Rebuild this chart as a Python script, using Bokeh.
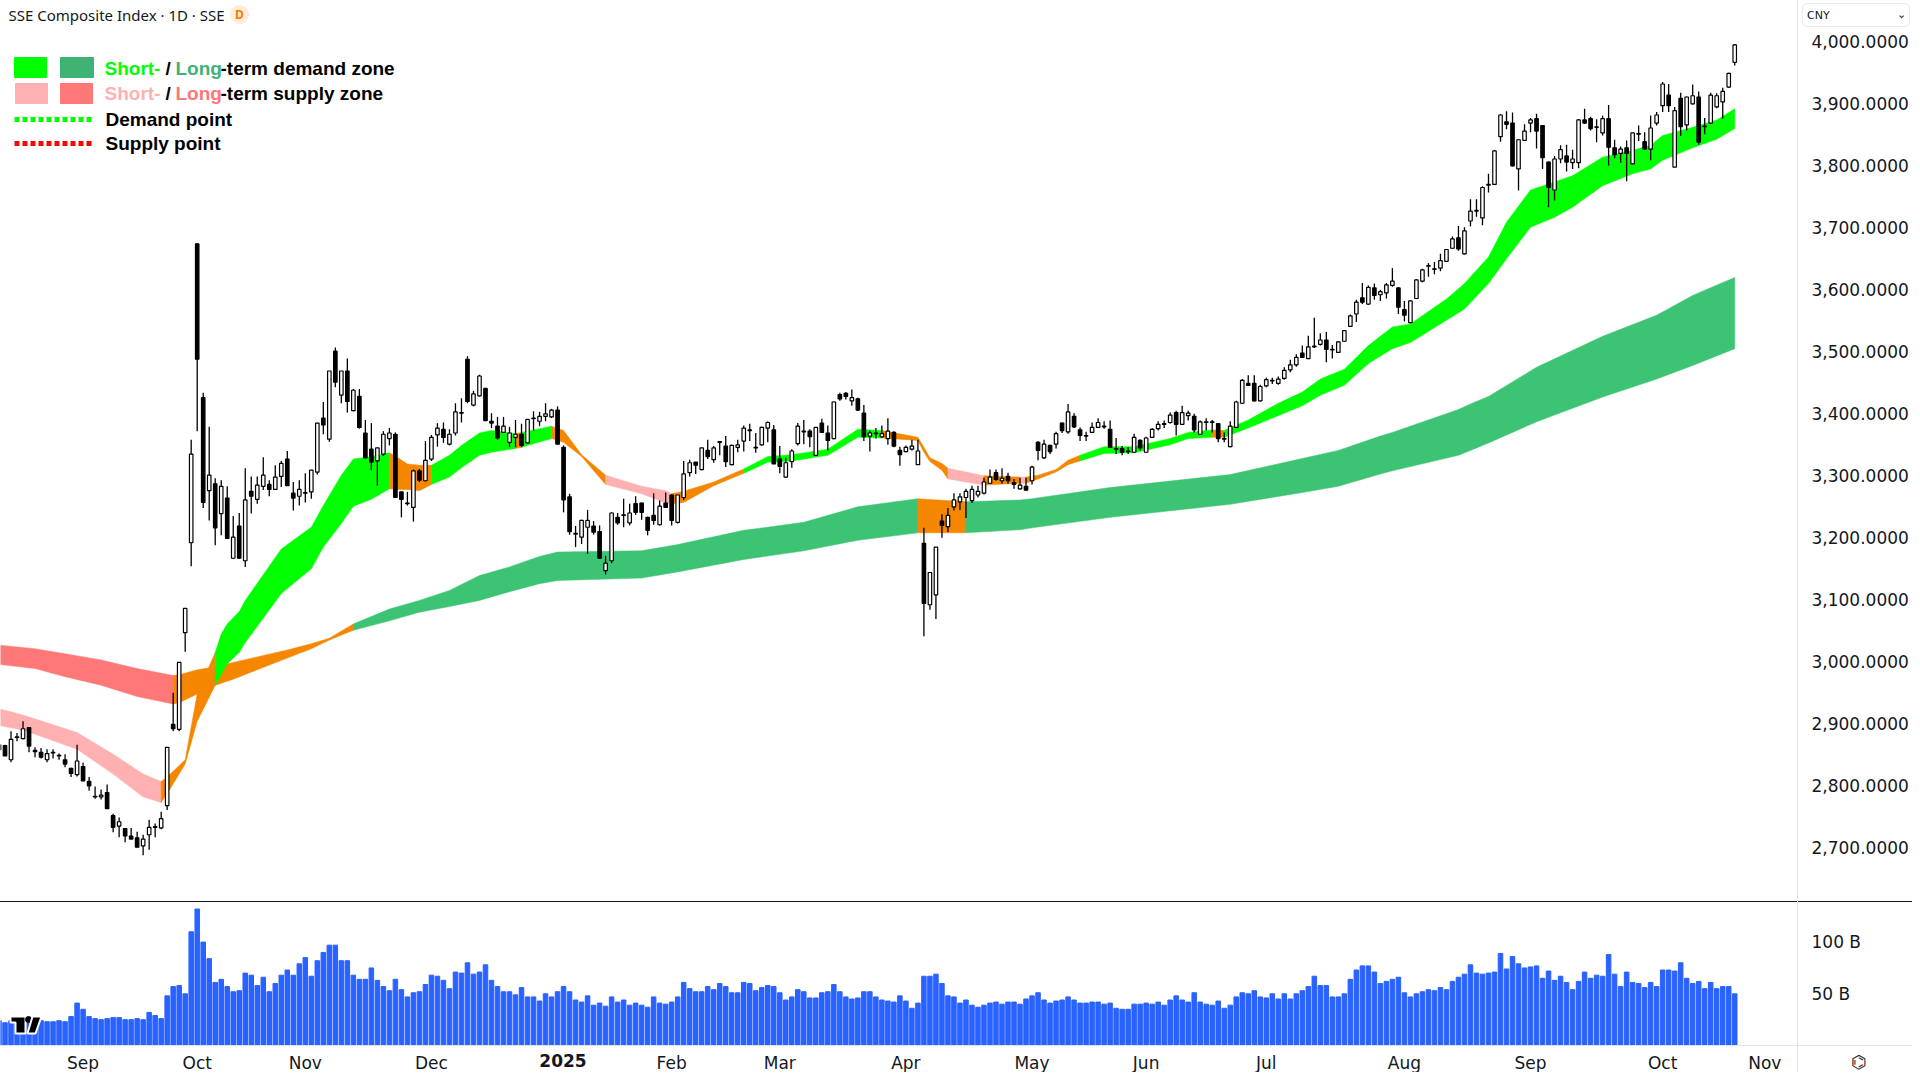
from bokeh.core.properties import value
from bokeh.embed import file_html
from bokeh.layouts import column
from bokeh.models import Div, FixedTicker, LinearAxis, NumeralTickFormatter, Range1d
from bokeh.plotting import figure
from bokeh.resources import INLINE

# daily candles, oldest first
opens = [
    2865, 2864, 2841, 2877, 2875, 2893, 2856, 2853, 2841, 2852,
    2848, 2841, 2827, 2817, 2830, 2806, 2782, 2781, 2788, 2751,
    2734, 2730, 2718, 2715, 2702, 2720, 2732, 2731, 2767, 2898,
    2890, 3046, 3191, 3673, 3425, 3275, 3286, 3238, 3263, 3166,
    3218, 3162, 3274, 3261, 3282, 3285, 3277, 3298, 3326, 3271,
    3266, 3272, 3273, 3305, 3392, 3358, 3500, 3429, 3468, 3404,
    3427, 3368, 3342, 3323, 3334, 3359, 3366, 3273, 3255, 3248,
    3307, 3291, 3326, 3365, 3374, 3350, 3368, 3400, 3487, 3413,
    3428, 3440, 3387, 3379, 3369, 3353, 3361, 3366, 3352, 3391,
    3387, 3395, 3394, 3405, 3345, 3265, 3206, 3200, 3216, 3218,
    3209, 3146, 3162, 3232, 3236, 3223, 3254, 3255, 3232, 3235,
    3220, 3255, 3268, 3224, 3264, 3304, 3321, 3309, 3340, 3325,
    3354, 3347, 3317, 3345, 3355, 3372, 3344, 3349, 3376, 3373,
    3326, 3297, 3322, 3351, 3370, 3371, 3332, 3384, 3368, 3359,
    3430, 3432, 3420, 3423, 3400, 3363, 3368, 3362, 3359, 3369,
    3340, 3338, 3342, 3317, 3190, 3091, 3107, 3226, 3217, 3249,
    3257, 3264, 3259, 3268, 3271, 3287, 3304, 3291, 3298, 3288,
    3278, 3282, 3291, 3353, 3328, 3348, 3350, 3384, 3370, 3395,
    3373, 3364, 3369, 3377, 3379, 3374, 3343, 3343, 3339, 3337,
    3356, 3337, 3361, 3375, 3382, 3385, 3401, 3382, 3396, 3395,
    3366, 3385, 3386, 3383, 3359, 3346, 3377, 3416, 3448, 3448,
    3420, 3444, 3453, 3448, 3456, 3470, 3478, 3497, 3488, 3508,
    3511, 3518, 3502, 3498, 3516, 3540, 3560, 3586, 3576, 3602,
    3591, 3594, 3606, 3602, 3567, 3546, 3585, 3613, 3637, 3633,
    3634, 3645, 3666, 3683, 3657, 3710, 3726, 3715, 3768, 3769,
    3846, 3870, 3868, 3794, 3840, 3868, 3875, 3864, 3805, 3760,
    3810, 3815, 3804, 3804, 3873, 3875, 3862, 3852, 3875, 3828,
    3819, 3828, 3802, 3851, 3838, 3826, 3868, 3896, 3913, 3797,
    3908, 3865, 3899, 3910, 3862, 3868, 3894, 3902, 3926, 3966,
]
highs = [
    2866, 2865, 2887, 2884, 2903, 2894, 2861, 2860, 2858, 2858,
    2851, 2850, 2828, 2865, 2836, 2813, 2798, 2793, 2801, 2754,
    2748, 2730, 2731, 2725, 2720, 2744, 2738, 2757, 2861, 2949,
    2998, 3085, 3357, 3674, 3433, 3378, 3295, 3292, 3282, 3234,
    3239, 3311, 3298, 3298, 3329, 3292, 3316, 3323, 3339, 3289,
    3292, 3303, 3308, 3384, 3418, 3468, 3506, 3468, 3488, 3439,
    3439, 3389, 3384, 3344, 3371, 3376, 3369, 3273, 3273, 3309,
    3310, 3355, 3365, 3384, 3385, 3374, 3416, 3424, 3492, 3436,
    3462, 3440, 3400, 3394, 3394, 3378, 3389, 3383, 3390, 3403,
    3402, 3416, 3407, 3411, 3348, 3270, 3218, 3228, 3244, 3226,
    3219, 3170, 3240, 3239, 3262, 3254, 3266, 3256, 3233, 3271,
    3259, 3272, 3269, 3268, 3323, 3325, 3321, 3344, 3357, 3347,
    3355, 3363, 3349, 3357, 3380, 3383, 3368, 3378, 3387, 3381,
    3347, 3328, 3342, 3384, 3389, 3374, 3377, 3391, 3380, 3419,
    3433, 3434, 3438, 3425, 3413, 3372, 3376, 3380, 3392, 3371,
    3346, 3348, 3357, 3357, 3215, 3143, 3184, 3237, 3247, 3271,
    3271, 3278, 3283, 3283, 3296, 3309, 3309, 3311, 3304, 3294,
    3296, 3296, 3315, 3355, 3357, 3349, 3370, 3385, 3415, 3400,
    3377, 3370, 3385, 3392, 3387, 3388, 3360, 3347, 3345, 3367,
    3358, 3362, 3376, 3387, 3388, 3401, 3404, 3412, 3404, 3399,
    3388, 3392, 3389, 3384, 3369, 3387, 3420, 3455, 3461, 3461,
    3446, 3457, 3457, 3459, 3474, 3486, 3495, 3509, 3525, 3554,
    3529, 3531, 3510, 3516, 3534, 3559, 3583, 3610, 3606, 3609,
    3599, 3610, 3634, 3603, 3581, 3582, 3616, 3633, 3642, 3644,
    3657, 3665, 3685, 3702, 3700, 3745, 3745, 3766, 3786, 3824,
    3882, 3887, 3885, 3842, 3866, 3876, 3883, 3865, 3806, 3815,
    3832, 3833, 3825, 3874, 3891, 3878, 3874, 3880, 3897, 3841,
    3830, 3840, 3852, 3864, 3853, 3880, 3886, 3934, 3931, 3894,
    3917, 3911, 3930, 3919, 3876, 3917, 3916, 3925, 3949, 3995,
]
lows = [
    2857, 2847, 2837, 2871, 2874, 2853, 2845, 2843, 2837, 2843,
    2841, 2829, 2813, 2814, 2807, 2791, 2778, 2777, 2762, 2724,
    2716, 2708, 2713, 2700, 2687, 2696, 2716, 2729, 2760, 2887,
    2887, 3015, 3153, 3371, 3247, 3227, 3187, 3203, 3198, 3165,
    3165, 3152, 3238, 3254, 3276, 3266, 3276, 3281, 3283, 3243,
    3251, 3256, 3262, 3301, 3366, 3354, 3442, 3416, 3401, 3403,
    3375, 3327, 3308, 3283, 3331, 3348, 3264, 3232, 3251, 3225,
    3289, 3290, 3323, 3346, 3352, 3348, 3364, 3385, 3416, 3411,
    3427, 3388, 3376, 3357, 3369, 3345, 3345, 3345, 3351, 3372,
    3379, 3387, 3392, 3350, 3240, 3204, 3184, 3189, 3173, 3204,
    3165, 3140, 3158, 3220, 3216, 3219, 3236, 3228, 3203, 3220,
    3219, 3247, 3219, 3222, 3260, 3298, 3302, 3308, 3326, 3320,
    3332, 3313, 3316, 3337, 3338, 3355, 3336, 3348, 3353, 3318,
    3303, 3296, 3312, 3348, 3350, 3345, 3331, 3369, 3340, 3358,
    3420, 3422, 3412, 3404, 3355, 3338, 3359, 3360, 3349, 3345,
    3315, 3337, 3340, 3317, 3040, 3083, 3068, 3199, 3208, 3243,
    3244, 3231, 3255, 3264, 3269, 3286, 3291, 3286, 3286, 3278,
    3277, 3275, 3285, 3324, 3326, 3334, 3343, 3368, 3367, 3376,
    3355, 3355, 3368, 3376, 3375, 3345, 3334, 3332, 3334, 3336,
    3340, 3336, 3360, 3372, 3376, 3383, 3364, 3381, 3388, 3369,
    3365, 3372, 3369, 3353, 3353, 3345, 3376, 3415, 3445, 3419,
    3419, 3442, 3447, 3446, 3454, 3466, 3475, 3489, 3488, 3505,
    3509, 3482, 3488, 3497, 3515, 3539, 3547, 3576, 3575, 3583,
    3581, 3585, 3604, 3560, 3548, 3545, 3584, 3611, 3620, 3624,
    3629, 3645, 3665, 3662, 3656, 3701, 3717, 3703, 3756, 3768,
    3838, 3858, 3798, 3759, 3839, 3853, 3827, 3794, 3732, 3743,
    3803, 3790, 3794, 3795, 3867, 3856, 3837, 3848, 3799, 3811,
    3804, 3774, 3802, 3839, 3825, 3808, 3864, 3886, 3886, 3797,
    3847, 3856, 3898, 3833, 3850, 3867, 3892, 3875, 3925, 3961,
]
closes = [
    2857, 2847, 2874, 2878, 2891, 2863, 2854, 2845, 2851, 2853,
    2847, 2834, 2819, 2839, 2807, 2799, 2781, 2784, 2762, 2732,
    2741, 2718, 2713, 2700, 2713, 2732, 2733, 2746, 2861, 2891,
    2998, 3085, 3334, 3487, 3256, 3300, 3215, 3282, 3198, 3200,
    3166, 3260, 3266, 3284, 3300, 3277, 3297, 3319, 3283, 3263,
    3277, 3271, 3308, 3384, 3381, 3468, 3450, 3468, 3419, 3437,
    3377, 3328, 3321, 3344, 3366, 3368, 3264, 3261, 3254, 3307,
    3292, 3324, 3361, 3376, 3361, 3366, 3402, 3401, 3419, 3431,
    3460, 3388, 3384, 3360, 3379, 3368, 3366, 3348, 3390, 3392,
    3395, 3399, 3405, 3350, 3260, 3209, 3205, 3227, 3227, 3208,
    3166, 3158, 3239, 3223, 3235, 3239, 3240, 3240, 3211, 3227,
    3250, 3248, 3227, 3268, 3302, 3320, 3316, 3344, 3330, 3344,
    3353, 3322, 3348, 3349, 3376, 3373, 3345, 3377, 3385, 3318,
    3314, 3320, 3339, 3379, 3371, 3362, 3377, 3369, 3356, 3418,
    3423, 3427, 3425, 3405, 3362, 3368, 3367, 3367, 3371, 3347,
    3333, 3345, 3347, 3339, 3093, 3143, 3184, 3219, 3235, 3260,
    3265, 3274, 3277, 3274, 3289, 3297, 3293, 3295, 3291, 3285,
    3284, 3276, 3313, 3340, 3350, 3338, 3367, 3372, 3402, 3378,
    3364, 3363, 3377, 3385, 3378, 3345, 3342, 3337, 3338, 3361,
    3344, 3360, 3374, 3382, 3383, 3397, 3382, 3401, 3400, 3373,
    3386, 3386, 3385, 3359, 3358, 3379, 3418, 3453, 3445, 3420,
    3443, 3454, 3452, 3455, 3469, 3478, 3490, 3490, 3507, 3507,
    3518, 3503, 3503, 3515, 3533, 3557, 3579, 3579, 3603, 3590,
    3596, 3607, 3613, 3571, 3558, 3581, 3615, 3631, 3638, 3632,
    3646, 3664, 3681, 3665, 3694, 3726, 3727, 3764, 3769, 3823,
    3881, 3866, 3799, 3841, 3855, 3873, 3855, 3812, 3764, 3810,
    3825, 3805, 3810, 3873, 3868, 3859, 3861, 3875, 3829, 3817,
    3826, 3819, 3852, 3850, 3826, 3860, 3881, 3931, 3896, 3888,
    3862, 3910, 3912, 3837, 3863, 3913, 3912, 3919, 3948, 3994,
]
# volume in billions
volumes = [
    24, 22, 24, 24, 24, 24, 24, 24, 23, 23,
    24, 23, 28, 41, 35, 28, 26, 25, 26, 27,
    27, 25, 25, 26, 25, 32, 29, 26, 48, 57,
    58, 50, 110, 132, 100, 84, 61, 64, 57, 52,
    53, 70, 68, 58, 66, 52, 60, 68, 73, 68,
    79, 85, 67, 82, 90, 97, 97, 82, 82, 68,
    64, 64, 75, 63, 57, 53, 64, 54, 47, 51,
    52, 59, 68, 67, 63, 55, 71, 70, 80, 69,
    71, 78, 63, 57, 52, 52, 49, 56, 47, 47,
    43, 50, 47, 52, 57, 52, 44, 42, 48, 39,
    41, 38, 47, 42, 44, 39, 41, 39, 37, 47,
    41, 40, 42, 47, 61, 55, 52, 52, 57, 54,
    60, 57, 51, 51, 61, 60, 53, 56, 58, 57,
    51, 44, 47, 54, 52, 46, 46, 51, 52, 59,
    52, 47, 45, 46, 52, 52, 47, 44, 43, 42,
    48, 43, 36, 41, 67, 67, 69, 60, 48, 47,
    41, 44, 39, 37, 39, 41, 42, 40, 42, 42,
    40, 45, 48, 51, 44, 41, 43, 44, 47, 44,
    41, 41, 42, 42, 40, 41, 36, 35, 35, 40,
    40, 41, 40, 42, 39, 44, 48, 44, 42, 51,
    42, 40, 39, 43, 36, 39, 47, 51, 50, 53,
    47, 46, 50, 45, 50, 45, 50, 53, 57, 67,
    58, 58, 47, 47, 50, 64, 73, 77, 77, 71,
    60, 62, 64, 66, 51, 47, 50, 52, 54, 53,
    56, 54, 62, 66, 69, 78, 70, 69, 70, 71,
    89, 74, 86, 79, 75, 76, 77, 65, 72, 63,
    67, 61, 54, 62, 71, 65, 68, 67, 88, 69,
    57, 71, 61, 60, 56, 61, 57, 73, 73, 72,
    80, 65, 60, 62, 55, 61, 55, 57, 57, 50,
]

# short-term zone, read at these bar numbers; state holds from that bar to the next
short_bars = [-1, 4, 13, 19, 24, 27, 28, 31, 33, 36, 37, 38, 40, 41, 47, 52, 54, 57, 59, 62,
              65, 66, 68, 70, 72, 75, 77, 80, 82, 86, 87, 92, 94, 97, 101, 107, 111, 112, 114, 119,
              124, 128, 132, 138, 143, 147, 153, 154, 155, 157, 158, 164, 170, 171, 173, 176, 178, 180, 184, 189,
              195, 198, 202, 204, 208, 213, 217, 220, 224, 228, 232, 235, 241, 244, 248, 251, 255, 259, 262, 267,
              272, 275, 277, 282, 286, 289]
short_top = [2926, 2913, 2885, 2850, 2818, 2806, 2813, 2841, 2947, 3014, 3044, 3060, 3080, 3098, 3181, 3216, 3251, 3300, 3326, 3330,
             3336, 3331, 3318, 3316, 3316, 3332, 3348, 3368, 3372, 3367, 3369, 3379, 3372, 3333, 3300, 3282, 3275, 3270, 3274, 3289,
             3310, 3330, 3333, 3342, 3374, 3372, 3361, 3345, 3328, 3319, 3311, 3299, 3297, 3297, 3300, 3309, 3324, 3332, 3346, 3346,
             3359, 3369, 3373, 3372, 3389, 3416, 3434, 3455, 3471, 3509, 3539, 3544, 3584, 3609, 3652, 3708, 3760, 3773, 3783, 3813,
             3824, 3832, 3848, 3861, 3873, 3891]
short_bot = [2898, 2889, 2858, 2818, 2781, 2772, 2786, 2834, 2903, 2961, 2978, 2996, 3014, 3030, 3109, 3149, 3184, 3222, 3250, 3261,
             3278, 3277, 3277, 3275, 3285, 3297, 3312, 3332, 3337, 3343, 3345, 3359, 3353, 3330, 3285, 3270, 3255, 3254, 3256, 3283,
             3303, 3321, 3323, 3332, 3361, 3360, 3356, 3337, 3322, 3308, 3294, 3284, 3287, 3287, 3294, 3305, 3317, 3323, 3335, 3336,
             3349, 3359, 3361, 3361, 3376, 3396, 3412, 3429, 3445, 3480, 3504, 3514, 3550, 3568, 3609, 3649, 3700, 3716, 3732, 3767,
             3786, 3794, 3808, 3828, 3842, 3859]
short_state = ["supply"] * 5 + ["mixed"] * 4 + ["demand"] * 11 + ["mixed"] * 4 + ["demand"] * 5 + ["mixed"] + ["demand"] \
    + ["mixed"] * 3 + ["supply"] * 3 + ["mixed"] * 3 + ["demand"] * 5 + ["mixed"] * 5 + ["supply"] + ["mixed"] \
    + ["supply"] + ["mixed"] * 4 + ["demand"] * 5 + ["mixed"] + ["demand"] * 22

# long-term zone
long_bars = [-1, 6, 11, 17, 23, 29, 30, 33, 36, 39, 48, 52, 55, 59, 65, 70, 75, 80, 85, 90, 93,
             107, 113, 124, 134, 143, 153, 161, 170, 172, 185, 205, 217, 223, 230, 232, 243, 245,
             248, 256, 267, 276, 282, 289]
long_top = [3027, 3020, 3012, 3002, 2988, 2977, 2978, 2986, 2991, 2998, 3018, 3028, 3037, 3060, 3084, 3098, 3114, 3138, 3152, 3169, 3176,
            3178, 3188, 3211, 3224, 3249, 3262, 3257, 3260, 3262, 3280, 3301, 3327, 3340, 3363, 3369, 3406, 3415,
            3427, 3474, 3524, 3558, 3590, 3619]
long_bot = [2996, 2988, 2975, 2961, 2943, 2931, 2933, 2947, 2961, 2971, 3005, 3020, 3034, 3050, 3065, 3079, 3088, 3098, 3112, 3125, 3130,
            3134, 3144, 3164, 3178, 3195, 3207, 3207, 3212, 3215, 3232, 3253, 3272, 3282, 3302, 3307, 3332, 3340,
            3352, 3386, 3426, 3455, 3477, 3504]
long_state = ["supply"] * 5 + ["mixed"] * 8 + ["demand"] * 13 + ["mixed"] + ["demand"] * 16

month_bars = [14, 33, 51, 72, 94, 112, 130, 151, 172, 191, 211, 234, 255, 277, 294]
month_names = ["Sep", "Oct", "Nov", "Dec", "", "Feb", "Mar", "Apr", "May", "Jun", "Jul", "Aug", "Sep", "Oct", "Nov"]
price_ticks = [2700, 2800, 2900, 3000, 3100, 3200, 3300, 3400, 3500, 3600, 3700, 3800, 3900, 4000]
volume_ticks = [50, 100]

SHORT_COLORS = {"supply": "#ffb1b1", "mixed": "#f58700", "demand": "#00ff00"}
LONG_COLORS = {"supply": "#ff7878", "mixed": "#f58700", "demand": "#3cc373"}
INK = "#131722"
UI_FONT = "DejaVu Sans"
LEGEND_FONT = "Liberation Sans"


# picture pixels to chart units, only for the legend and title decoration
def bar_at(px):
    return (px + 1.5) / 6.006


def price_at(py):
    return 4000 - (py - 40.7) * 1.613


def vol_at(py):
    return (1045 - py) / 1.034


def draw_zone(p, bars, top, bot, state, colors):
    # one patch per run of equal state, so no seams inside a run
    start = 0
    for k in range(1, len(bars)):
        if k == len(bars) - 1 or state[k] != state[start]:
            xs = bars[start:k + 1] + bars[start:k + 1][::-1]
            ys = top[start:k + 1] + bot[start:k + 1][::-1]
            p.patch(xs, ys, color=colors[state[start]], line_width=0.5)
            start = k


def draw_text(p, px, py, text, color, size, font=LEGEND_FONT, style="normal"):
    p.text([bar_at(px)], [price_at(py)], text=[text], text_color=color, text_font=value(font),
           text_font_size=size, text_font_style=style, text_baseline="middle")


def style_axis(axis, standoff):
    axis.major_label_text_font = UI_FONT
    axis.major_label_text_font_size = "17px"
    axis.major_label_text_color = INK
    axis.major_label_standoff = standoff
    axis.major_tick_line_color = None
    axis.major_tick_out = 0
    axis.major_tick_in = 0
    axis.minor_tick_line_color = None
    axis.minor_tick_out = 0
    axis.minor_tick_in = 0
    axis.axis_line_color = "#e0e3eb"


# text and rules outside the plot frames go in as page elements over the figures
def overlay(left, top, width, height, text="", **css):
    styles = {"position": "absolute", "left": f"{left}px", "top": f"{top}px", "line-height": f"{height}px",
              "font-family": UI_FONT, "color": INK}
    styles.update(css)
    return Div(text=text, width=width, height=height, margin=0, styles=styles)


x_range = Range1d(bar_at(0), bar_at(1797))

p = figure(width=1912, height=901, x_range=x_range, y_range=Range1d(price_at(901), price_at(0)),
           output_backend="svg", toolbar_location=None, min_border_left=0, min_border_top=0,
           min_border_bottom=0, min_border_right=115, x_axis_location=None, y_axis_location=None,
           outline_line_color=None)
p.grid.visible = False

price_axis = LinearAxis(ticker=FixedTicker(ticks=price_ticks), formatter=NumeralTickFormatter(format="0,0.0000"))
style_axis(price_axis, 14)
p.add_layout(price_axis, "right")

draw_zone(p, long_bars, long_top, long_bot, long_state, LONG_COLORS)
draw_zone(p, short_bars, short_top, short_bot, short_state, SHORT_COLORS)

bars = list(range(len(opens)))
body_fill = ["white" if c >= o else "black" for o, c in zip(opens, closes)]
p.segment(bars, highs, bars, lows, color="black", line_width=1.3)
p.vbar(bars, width=0.58, top=opens, bottom=closes, fill_color=body_fill, line_color="black", line_width=1.2)

# title
draw_text(p, 8, 14, "SSE Composite Index · 1D · SSE", INK, "15px", font="Noto Sans")
p.scatter([bar_at(239)], [price_at(14)], size=18, color="#ffecd9")
p.text([bar_at(239)], [price_at(14)], text=["D"], text_color="#f57c00", text_font=value("Noto Sans"),
       text_font_size="12px", text_font_style="bold", text_align="center", text_baseline="middle")

# legend
p.quad(left=[bar_at(14)], right=[bar_at(46)], top=[price_at(57)], bottom=[price_at(77)], color="#00ff00")
p.quad(left=[bar_at(60)], right=[bar_at(93)], top=[price_at(57)], bottom=[price_at(77)], color="#3eb374")
p.quad(left=[bar_at(15)], right=[bar_at(47)], top=[price_at(83)], bottom=[price_at(103)], color="#ffb1b1")
p.quad(left=[bar_at(60)], right=[bar_at(92)], top=[price_at(83)], bottom=[price_at(103)], color="#ff7878")
p.line([bar_at(14), bar_at(92)], [price_at(119)] * 2, color="#00ff00", line_width=5, line_dash="5 3")
p.line([bar_at(14), bar_at(92)], [price_at(143)] * 2, color="#ff0000", line_width=5, line_dash="5 3")

draw_text(p, 104, 68, "Short-", "#00ff00", "19px", style="bold")
draw_text(p, 165, 68, "/", "black", "19px", style="bold")
draw_text(p, 175, 68, "Long", "#3eb374", "19px", style="bold")
draw_text(p, 220, 68, "-term demand zone", "black", "19px", style="bold")
draw_text(p, 104, 93, "Short-", "#ffb1b1", "19px", style="bold")
draw_text(p, 165, 93, "/", "black", "19px", style="bold")
draw_text(p, 175, 93, "Long", "#ff7878", "19px", style="bold")
draw_text(p, 220, 93, "-term supply zone", "black", "19px", style="bold")
draw_text(p, 105, 119, "Demand point", "black", "19px", style="bold")
draw_text(p, 105, 143, "Supply point", "black", "19px", style="bold")

sep = Div(width=1912, height=1, margin=0, styles={"background-color": INK})

# the time axis strip is a little taller than what is left of the window; the page clips its empty foot
v = figure(width=1912, height=173, x_range=x_range, y_range=Range1d(0, 138.3), output_backend="svg",
           toolbar_location=None, min_border_left=0, min_border_top=0, min_border_bottom=30,
           min_border_right=115, y_axis_location=None, outline_line_color=None)
v.grid.visible = False

volume_axis = LinearAxis(ticker=FixedTicker(ticks=volume_ticks),
                         major_label_overrides={t: f"{t} B" for t in volume_ticks})
style_axis(volume_axis, 14)
v.add_layout(volume_axis, "right")

v.vbar(bars, width=0.75, top=volumes, bottom=0, color="#2962ff")

# TradingView mark over the first volume bars
v.patch([bar_at(px) for px in (10, 25, 25, 15, 15, 10)],
        [vol_at(py) for py in (1016, 1016, 1033, 1033, 1022, 1022)],
        color="black", line_color="white", line_width=2)
v.scatter([bar_at(28)], [vol_at(1019)], size=6, color="black")
v.patch([bar_at(px) for px in (32, 41, 35, 27)], [vol_at(py) for py in (1016, 1016, 1033, 1033)],
        color="black", line_color="white", line_width=2)

v.xaxis.ticker = FixedTicker(ticks=month_bars)
v.xaxis.major_label_overrides = dict(zip(month_bars, month_names))
style_axis(v.xaxis[0], 7)

extras = [
    overlay(1797, 0, 1, 1072, **{"background-color": "#e0e3eb"}),
    overlay(0, 1045, 1912, 1, **{"background-color": "#e0e3eb"}),
    overlay(1802, 3, 108, 24, "CNY", **{"font-size": "11px", "border": "1px solid #e8eaef",
                                        "border-radius": "5px", "padding-left": "4px",
                                        "box-sizing": "border-box", "background-color": "white"}),
    overlay(1897, 3, 12, 24, "⌄", **{"font-size": "11px"}),
    overlay(533, 1052, 60, 18, "2025", **{"font-size": "17px", "font-weight": "bold", "text-align": "center"}),
    overlay(1849, 1054, 20, 16, "⌬", **{"font-size": "18px", "text-align": "center"}),
]

page = column(p, sep, v, *extras, spacing=0, width=1912, height=1072, styles={"overflow": "hidden"})
open("out.html", "w").write(file_html(page, INLINE))
